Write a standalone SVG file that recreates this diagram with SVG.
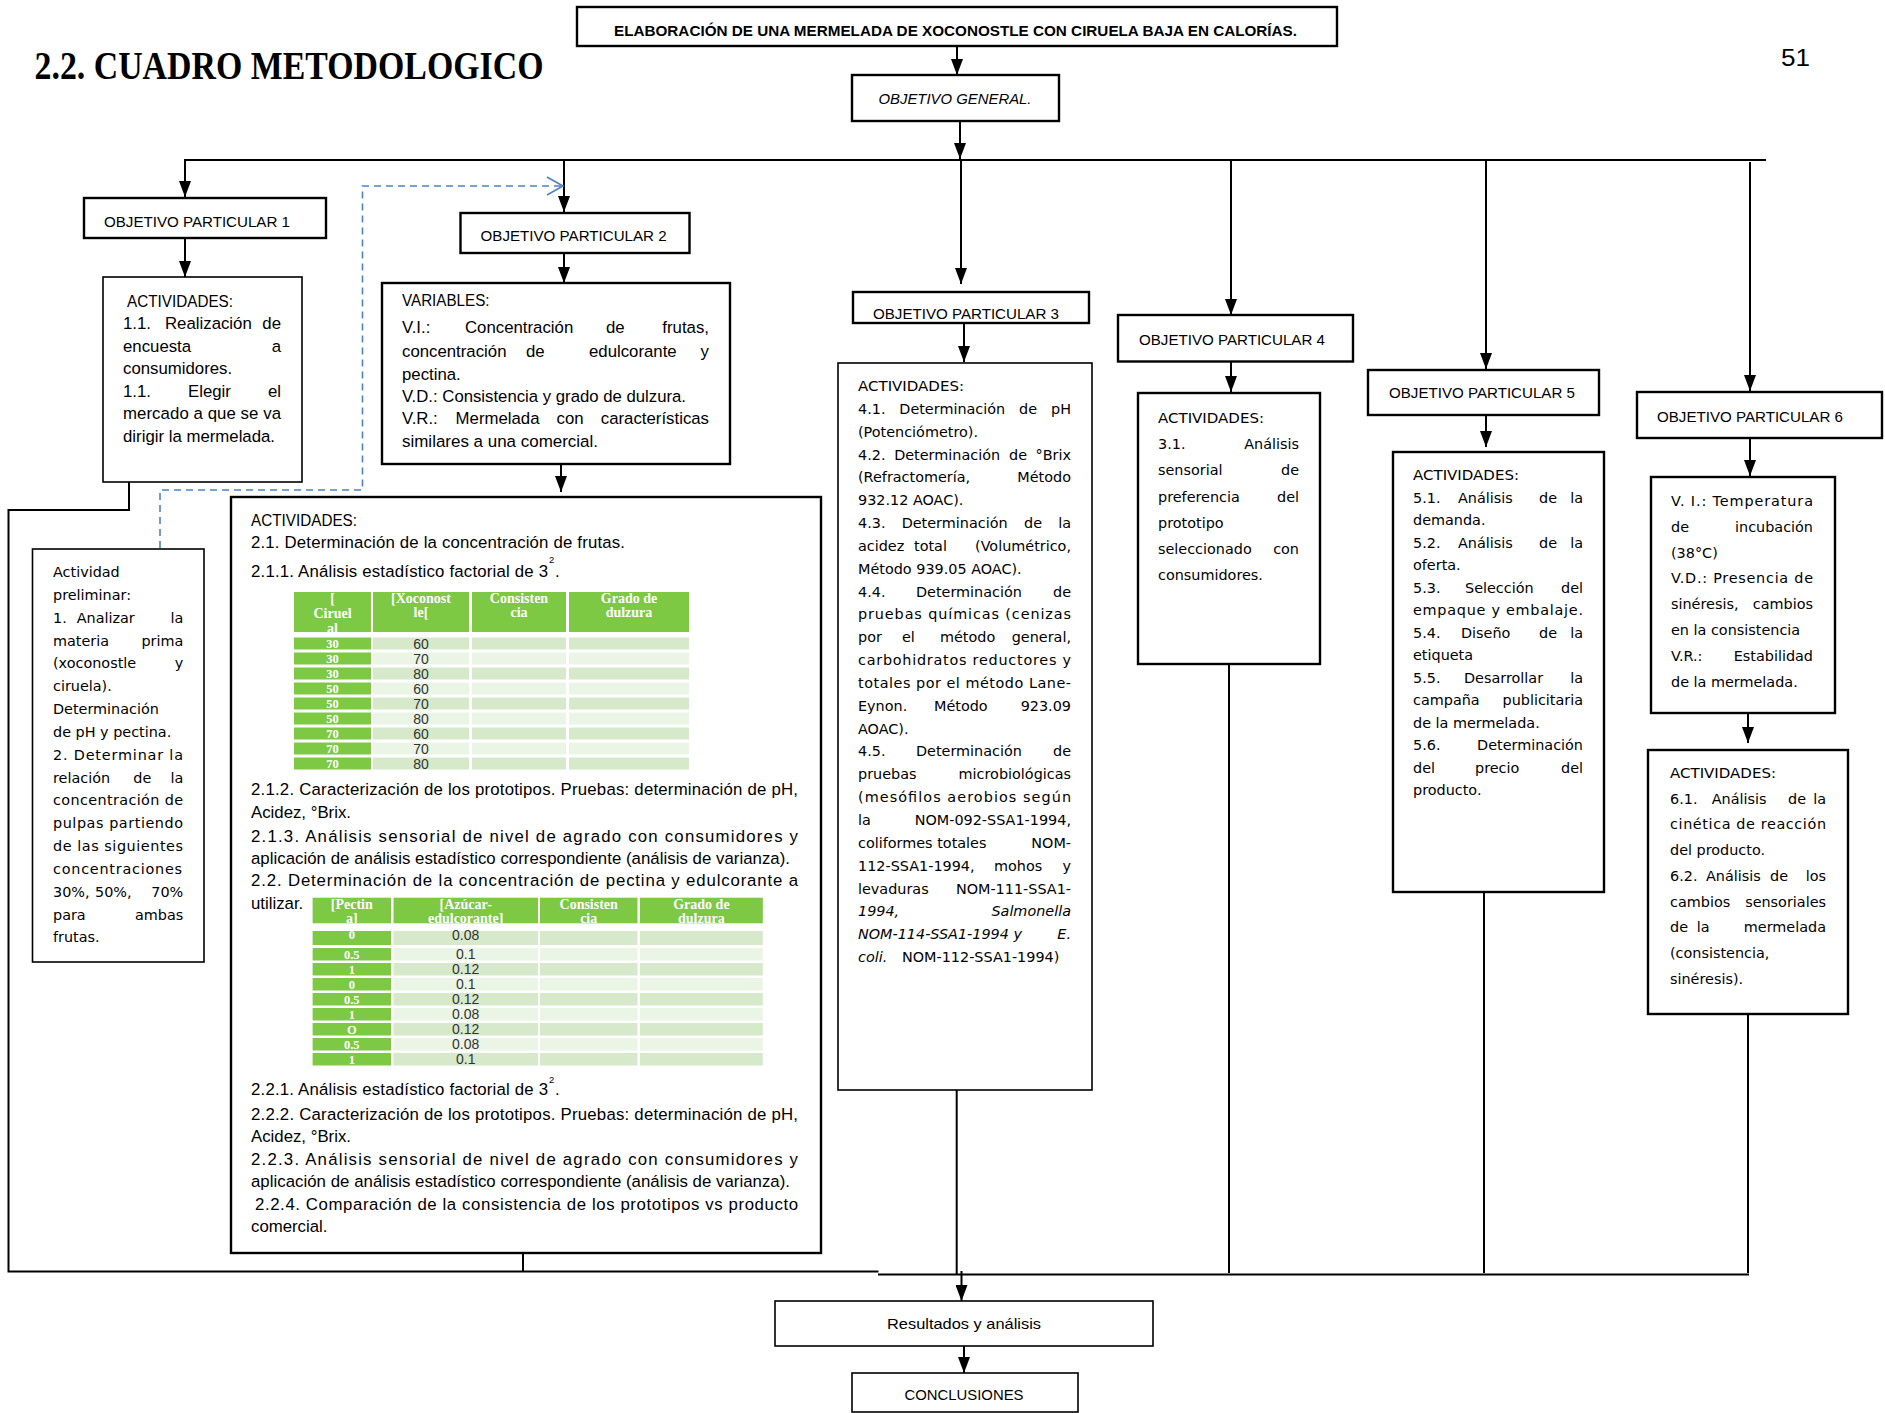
<svg xmlns="http://www.w3.org/2000/svg" width="1885" height="1413" viewBox="0 0 1885 1413">
<defs>
<style>
.bx{fill:#fff;stroke:#000;stroke-width:2.4}
.bt{fill:#fff;stroke:#000;stroke-width:1.6}
.ln{fill:none;stroke:#000;stroke-width:2}
.ar{fill:none;stroke:#000;stroke-width:2;marker-end:url(#ah)}
.c{font-family:"Liberation Sans",Arial,sans-serif;font-size:16.8px;fill:#000}
.sup{font-family:"Liberation Sans",Arial,sans-serif;font-size:9.5px;fill:#000}
.v{font-family:"DejaVu Sans",Verdana,sans-serif;font-size:14.4px;fill:#000}
.lab{font-family:"Liberation Sans",Arial,sans-serif;font-size:15px;fill:#000;text-anchor:middle}
.e{text-anchor:end}
.i{font-style:italic}
.hd{font-family:"Liberation Serif","Times New Roman",serif;font-weight:bold;font-size:14px;fill:#fff;text-anchor:middle}
.d1{font-family:"Liberation Serif","Times New Roman",serif;font-weight:bold;font-size:12.5px;fill:#fff;text-anchor:middle}
.d2{font-family:"Liberation Sans",Arial,sans-serif;font-size:14px;fill:#333;text-anchor:middle}
.g{fill:#7dc943}
.l1{fill:#d6eacb}
.l2{fill:#ebf5e5}
</style>
<marker id="ah" viewBox="0 0 16 12" refX="16" refY="6" markerWidth="16" markerHeight="12" markerUnits="userSpaceOnUse" orient="auto"><path d="M0,0 L16,6 L0,12 z" fill="#000"/></marker>
<clipPath id="h1"><rect x="294" y="592" width="395" height="40"/></clipPath>
<clipPath id="h2"><rect x="312.6" y="897.7" width="450.2" height="25.6"/></clipPath>
</defs>
<rect x="0" y="0" width="1885" height="1413" fill="#fff"/>

<g id="heading">
<text x="34.5" y="79" font-family="Liberation Serif,Times New Roman,serif" font-weight="bold" font-size="40" textLength="509" lengthAdjust="spacingAndGlyphs">2.2. CUADRO METODOLOGICO</text>
</g>
<g id="page-number">
<text x="1781" y="66" font-family="Liberation Sans,Arial,sans-serif" font-size="24" textLength="29" lengthAdjust="spacingAndGlyphs">51</text>
</g>

<g id="connectors">
<line class="ar" x1="957" y1="46" x2="957" y2="75"/>
<line class="ar" x1="960" y1="121" x2="960" y2="159"/>
<line class="ln" x1="184" y1="160" x2="1766" y2="160" stroke-width="3"/>
<line class="ar" x1="185" y1="160" x2="185" y2="197"/>
<line class="ar" x1="564" y1="160" x2="564" y2="212"/>
<line class="ar" x1="961" y1="160" x2="961" y2="284"/>
<line class="ar" x1="1231" y1="160" x2="1231" y2="315"/>
<line class="ar" x1="1486" y1="160" x2="1486" y2="369"/>
<line class="ar" x1="1750" y1="162" x2="1750" y2="391"/>
<line class="ar" x1="185" y1="238" x2="185" y2="277"/>
<line class="ar" x1="564" y1="253" x2="564" y2="283"/>
<line class="ar" x1="561" y1="464" x2="561" y2="492"/>
<line class="ar" x1="964" y1="323" x2="964" y2="362"/>
<line class="ar" x1="1231" y1="361" x2="1231" y2="392"/>
<line class="ar" x1="1486" y1="415" x2="1486" y2="447"/>
<line class="ar" x1="1750" y1="438" x2="1750" y2="476"/>
<line class="ar" x1="1748" y1="713" x2="1748" y2="743"/>
<polyline class="ln" points="129,482 129,510 8.5,510 8.5,1271.5 878.5,1271.5"/>
<line class="ln" x1="523" y1="1254" x2="523" y2="1271.5"/>
<line class="ln" x1="878" y1="1274.5" x2="1749" y2="1274.5" stroke-width="3"/>
<line class="ln" x1="956.7" y1="1090" x2="956.7" y2="1274"/>
<line class="ln" x1="1229" y1="664" x2="1229" y2="1273"/>
<line class="ln" x1="1484" y1="892" x2="1484" y2="1273"/>
<line class="ln" x1="1748" y1="1014" x2="1748" y2="1273"/>
<line class="ar" x1="961.5" y1="1271" x2="961.5" y2="1301"/>
<line class="ar" x1="964" y1="1346" x2="964" y2="1373"/>
<path d="M160,548 V490 H362.5 V186 H561" fill="none" stroke="#4f81bd" stroke-width="1.6" stroke-dasharray="7,5"/>
<path d="M547,177 L563,186 L547,195" fill="none" stroke="#4f81bd" stroke-width="1.6"/>
</g>

<g id="n-main">
<rect class="bx" x="577" y="7" width="760" height="39"/>
<text x="614" y="36" font-family="Liberation Sans,Arial,sans-serif" font-weight="bold" font-size="15.5" textLength="683" lengthAdjust="spacingAndGlyphs">ELABORACIÓN DE UNA MERMELADA DE XOCONOSTLE CON CIRUELA BAJA EN CALORÍAS.</text>
</g>

<g id="n-og">
<rect class="bx" x="852" y="75" width="207" height="46"/>
<text class="lab i" x="955" y="104" textLength="153" lengthAdjust="spacingAndGlyphs">OBJETIVO GENERAL.</text>
</g>

<g id="n-op1">
<rect class="bx" x="84" y="198" width="242" height="40"/>
<text class="lab" x="197" y="227" textLength="186" lengthAdjust="spacingAndGlyphs">OBJETIVO PARTICULAR 1</text>
</g>

<g id="n-op1-act">
<rect class="bt" x="103" y="277" width="199" height="205"/>
<text class="c" x="127" y="306.5" textLength="106" lengthAdjust="spacingAndGlyphs">ACTIVIDADES:</text>
<text class="c" x="123" y="329.3">1.1.</text><text class="c" x="165" y="329.3">Realización</text><text class="c e" x="281" y="329.3">de</text>
<text class="c" x="123" y="351.7">encuesta</text><text class="c e" x="281" y="351.7">a</text>
<text class="c" x="123" y="374.3">consumidores.</text>
<text class="c" x="123" y="396.7">1.1.</text><text class="c" x="188" y="396.7">Elegir</text><text class="c e" x="281" y="396.7">el</text>
<text class="c" x="123" y="419.3" textLength="158" lengthAdjust="spacing">mercado a que se va</text>
<text class="c" x="123" y="442.3">dirigir la mermelada.</text>
</g>

<g id="n-op2">
<rect class="bx" x="460.5" y="213" width="229" height="40"/>
<text class="lab" x="573.6" y="241" textLength="186" lengthAdjust="spacingAndGlyphs">OBJETIVO PARTICULAR 2</text>
</g>

<g id="n-op2-var">
<rect class="bx" x="382" y="283" width="348" height="181"/>
<text class="c" x="402" y="306" textLength="87.5" lengthAdjust="spacingAndGlyphs">VARIABLES:</text>
<text class="c" x="402" y="333">V.I.:</text><text class="c" x="465" y="333">Concentración</text><text class="c" x="606" y="333">de</text><text class="c e" x="709" y="333">frutas,</text>
<text class="c" x="402" y="357">concentración</text><text class="c" x="526" y="357">de</text><text class="c" x="589" y="357">edulcorante</text><text class="c e" x="709" y="357">y</text>
<text class="c" x="402" y="380">pectina.</text>
<text class="c" x="402" y="402" textLength="284" lengthAdjust="spacingAndGlyphs">V.D.: Consistencia y grado de dulzura.</text>
<text class="c" x="402" y="424">V.R.:</text><text class="c" x="455.6" y="424">Mermelada</text><text class="c" x="556.5" y="424">con</text><text class="c e" x="709" y="424">características</text>
<text class="c" x="402" y="447" textLength="196" lengthAdjust="spacingAndGlyphs">similares a una comercial.</text>
</g>

<g id="n-op2-act">
<rect class="bx" x="231" y="497" width="590" height="756"/>
<text class="c" x="251" y="526" textLength="106" lengthAdjust="spacingAndGlyphs">ACTIVIDADES:</text>
<text class="c" x="251" y="548" textLength="374" lengthAdjust="spacing">2.1. Determinación de la concentración de frutas.</text>
<text class="c" x="251" y="577" textLength="297" lengthAdjust="spacing">2.1.1. Análisis  estadístico factorial de 3</text>
<text class="sup" x="549" y="563">2</text><text class="c" x="555" y="577">.</text>
<g id="table-1">
<rect class="g" x="294" y="592" width="77" height="40"/><rect class="g" x="373" y="592" width="96" height="40"/><rect class="g" x="472" y="592" width="94" height="40"/><rect class="g" x="569" y="592" width="120" height="40"/>
<g clip-path="url(#h1)">
<text class="hd" x="332.5" y="603">[</text><text class="hd" x="332.5" y="618">Ciruel</text><text class="hd" x="332.5" y="633">al</text>
<text class="hd" x="421" y="603">[Xoconost</text><text class="hd" x="421" y="617">le[</text>
<text class="hd" x="519" y="603">Consisten</text><text class="hd" x="519" y="617">cia</text>
<text class="hd" x="629" y="603">Grado de</text><text class="hd" x="629" y="617">dulzura</text>
</g>
<rect class="g" x="294" y="637.5" width="77" height="12"/><rect class="l1" x="373" y="637.5" width="96" height="12"/><rect class="l1" x="472" y="637.5" width="94" height="12"/><rect class="l1" x="569" y="637.5" width="120" height="12"/>
<rect class="g" x="294" y="652.5" width="77" height="12"/><rect class="l2" x="373" y="652.5" width="96" height="12"/><rect class="l2" x="472" y="652.5" width="94" height="12"/><rect class="l2" x="569" y="652.5" width="120" height="12"/>
<rect class="g" x="294" y="667.5" width="77" height="12"/><rect class="l1" x="373" y="667.5" width="96" height="12"/><rect class="l1" x="472" y="667.5" width="94" height="12"/><rect class="l1" x="569" y="667.5" width="120" height="12"/>
<rect class="g" x="294" y="682.5" width="77" height="12"/><rect class="l2" x="373" y="682.5" width="96" height="12"/><rect class="l2" x="472" y="682.5" width="94" height="12"/><rect class="l2" x="569" y="682.5" width="120" height="12"/>
<rect class="g" x="294" y="697.5" width="77" height="12"/><rect class="l1" x="373" y="697.5" width="96" height="12"/><rect class="l1" x="472" y="697.5" width="94" height="12"/><rect class="l1" x="569" y="697.5" width="120" height="12"/>
<rect class="g" x="294" y="712.5" width="77" height="12"/><rect class="l2" x="373" y="712.5" width="96" height="12"/><rect class="l2" x="472" y="712.5" width="94" height="12"/><rect class="l2" x="569" y="712.5" width="120" height="12"/>
<rect class="g" x="294" y="727.5" width="77" height="12"/><rect class="l1" x="373" y="727.5" width="96" height="12"/><rect class="l1" x="472" y="727.5" width="94" height="12"/><rect class="l1" x="569" y="727.5" width="120" height="12"/>
<rect class="g" x="294" y="742.5" width="77" height="12"/><rect class="l2" x="373" y="742.5" width="96" height="12"/><rect class="l2" x="472" y="742.5" width="94" height="12"/><rect class="l2" x="569" y="742.5" width="120" height="12"/>
<rect class="g" x="294" y="757.5" width="77" height="12"/><rect class="l1" x="373" y="757.5" width="96" height="12"/><rect class="l1" x="472" y="757.5" width="94" height="12"/><rect class="l1" x="569" y="757.5" width="120" height="12"/>
<text class="d1" x="332.5" y="648">30</text><text class="d2" x="421" y="648.5">60</text>
<text class="d1" x="332.5" y="663">30</text><text class="d2" x="421" y="663.5">70</text>
<text class="d1" x="332.5" y="678">30</text><text class="d2" x="421" y="678.5">80</text>
<text class="d1" x="332.5" y="693">50</text><text class="d2" x="421" y="693.5">60</text>
<text class="d1" x="332.5" y="708">50</text><text class="d2" x="421" y="708.5">70</text>
<text class="d1" x="332.5" y="723">50</text><text class="d2" x="421" y="723.5">80</text>
<text class="d1" x="332.5" y="738">70</text><text class="d2" x="421" y="738.5">60</text>
<text class="d1" x="332.5" y="753">70</text><text class="d2" x="421" y="753.5">70</text>
<text class="d1" x="332.5" y="768">70</text><text class="d2" x="421" y="768.5">80</text>
</g>
<text class="c" x="251" y="795" textLength="547" lengthAdjust="spacing">2.1.2. Caracterización de los prototipos. Pruebas: determinación de pH,</text>
<text class="c" x="251" y="818">Acidez, °Brix.</text>
<text class="c" x="251" y="841.7" textLength="547" lengthAdjust="spacing">2.1.3. Análisis sensorial de nivel de agrado con consumidores y</text>
<text class="c" x="251" y="864" textLength="539" lengthAdjust="spacing">aplicación de análisis estadístico correspondiente (análisis de varianza).</text>
<text class="c" x="251" y="886" textLength="547" lengthAdjust="spacing">2.2. Determinación de la concentración de pectina y  edulcorante a</text>
<text class="c" x="251" y="909">utilizar.</text>
<g id="table-2">
<rect class="g" x="312.6" y="897.7" width="78.4" height="25.6"/><rect class="g" x="393.5" y="897.7" width="144.5" height="25.6"/><rect class="g" x="540" y="897.7" width="97.5" height="25.6"/><rect class="g" x="640" y="897.7" width="122.8" height="25.6"/>
<g clip-path="url(#h2)">
<text class="hd" x="351.8" y="909">[Pectin</text><text class="hd" x="351.8" y="923">a]</text>
<text class="hd" x="465.7" y="909">[Azúcar-</text><text class="hd" x="465.7" y="923">edulcorante]</text>
<text class="hd" x="588.7" y="909">Consisten</text><text class="hd" x="588.7" y="923">cia</text>
<text class="hd" x="701.4" y="909">Grado de</text><text class="hd" x="701.4" y="923">dulzura</text>
</g>
<rect class="g" x="312.6" y="931" width="78.4" height="14"/><rect class="l1" x="393.5" y="931" width="144.5" height="14"/><rect class="l1" x="540" y="931" width="97.5" height="14"/><rect class="l1" x="640" y="931" width="122.8" height="14"/>
<rect class="g" x="312.6" y="948" width="78.4" height="12.5"/><rect class="l2" x="393.5" y="948" width="144.5" height="12.5"/><rect class="l2" x="540" y="948" width="97.5" height="12.5"/><rect class="l2" x="640" y="948" width="122.8" height="12.5"/>
<rect class="g" x="312.6" y="963" width="78.4" height="12.5"/><rect class="l1" x="393.5" y="963" width="144.5" height="12.5"/><rect class="l1" x="540" y="963" width="97.5" height="12.5"/><rect class="l1" x="640" y="963" width="122.8" height="12.5"/>
<rect class="g" x="312.6" y="978" width="78.4" height="12.5"/><rect class="l2" x="393.5" y="978" width="144.5" height="12.5"/><rect class="l2" x="540" y="978" width="97.5" height="12.5"/><rect class="l2" x="640" y="978" width="122.8" height="12.5"/>
<rect class="g" x="312.6" y="993" width="78.4" height="12.5"/><rect class="l1" x="393.5" y="993" width="144.5" height="12.5"/><rect class="l1" x="540" y="993" width="97.5" height="12.5"/><rect class="l1" x="640" y="993" width="122.8" height="12.5"/>
<rect class="g" x="312.6" y="1008" width="78.4" height="12.5"/><rect class="l2" x="393.5" y="1008" width="144.5" height="12.5"/><rect class="l2" x="540" y="1008" width="97.5" height="12.5"/><rect class="l2" x="640" y="1008" width="122.8" height="12.5"/>
<rect class="g" x="312.6" y="1023" width="78.4" height="12.5"/><rect class="l1" x="393.5" y="1023" width="144.5" height="12.5"/><rect class="l1" x="540" y="1023" width="97.5" height="12.5"/><rect class="l1" x="640" y="1023" width="122.8" height="12.5"/>
<rect class="g" x="312.6" y="1038" width="78.4" height="12.5"/><rect class="l2" x="393.5" y="1038" width="144.5" height="12.5"/><rect class="l2" x="540" y="1038" width="97.5" height="12.5"/><rect class="l2" x="640" y="1038" width="122.8" height="12.5"/>
<rect class="g" x="312.6" y="1053" width="78.4" height="12.5"/><rect class="l1" x="393.5" y="1053" width="144.5" height="12.5"/><rect class="l1" x="540" y="1053" width="97.5" height="12.5"/><rect class="l1" x="640" y="1053" width="122.8" height="12.5"/>
<text class="d1" x="351.8" y="939">0</text><text class="d2" x="465.7" y="939.5">0.08</text>
<text class="d1" x="351.8" y="958.5">0.5</text><text class="d2" x="465.7" y="959">0.1</text>
<text class="d1" x="351.8" y="973.5">1</text><text class="d2" x="465.7" y="974">0.12</text>
<text class="d1" x="351.8" y="988.5">0</text><text class="d2" x="465.7" y="989">0.1</text>
<text class="d1" x="351.8" y="1003.5">0.5</text><text class="d2" x="465.7" y="1004">0.12</text>
<text class="d1" x="351.8" y="1018.5">1</text><text class="d2" x="465.7" y="1019">0.08</text>
<text class="d1" x="351.8" y="1033.5">O</text><text class="d2" x="465.7" y="1034">0.12</text>
<text class="d1" x="351.8" y="1048.5">0.5</text><text class="d2" x="465.7" y="1049">0.08</text>
<text class="d1" x="351.8" y="1063.5">1</text><text class="d2" x="465.7" y="1064">0.1</text>
</g>
<text class="c" x="251" y="1095" textLength="297" lengthAdjust="spacing">2.2.1. Análisis  estadístico factorial de 3</text>
<text class="sup" x="549" y="1083">2</text><text class="c" x="555" y="1095">.</text>
<text class="c" x="251" y="1120" textLength="547" lengthAdjust="spacing">2.2.2. Caracterización de los prototipos. Pruebas: determinación de pH,</text>
<text class="c" x="251" y="1142">Acidez, °Brix.</text>
<text class="c" x="251" y="1165" textLength="547" lengthAdjust="spacing">2.2.3. Análisis sensorial de nivel de agrado con consumidores y</text>
<text class="c" x="251" y="1187" textLength="539" lengthAdjust="spacing">aplicación de análisis estadístico correspondiente (análisis de varianza).</text>
<text class="c" x="255" y="1210" textLength="543" lengthAdjust="spacing">2.2.4. Comparación de la consistencia de los prototipos vs producto</text>
<text class="c" x="251" y="1232">comercial.</text>
</g>

<g id="n-prelim">
<rect class="bt" x="32.5" y="549" width="171.5" height="413"/>
<text class="v" x="53" y="577">Actividad</text>
<text class="v" x="53" y="599.8">preliminar:</text>
<text class="v" x="53" y="622.7">1.</text><text class="v" x="76.7" y="622.7">Analizar</text><text class="v e" x="183.3" y="622.7">la</text>
<text class="v" x="53" y="645.5">materia</text><text class="v e" x="183.3" y="645.5">prima</text>
<text class="v" x="53" y="668.4">(xoconostle</text><text class="v e" x="183.3" y="668.4">y</text>
<text class="v" x="53" y="691.2">ciruela).</text>
<text class="v" x="53" y="714">Determinación</text>
<text class="v" x="53" y="736.9">de pH y pectina.</text>
<text class="v" x="53" y="759.7" textLength="130" lengthAdjust="spacing">2. Determinar la</text>
<text class="v" x="53" y="782.6">relación</text><text class="v" x="133.3" y="782.6">de</text><text class="v e" x="183.3" y="782.6">la</text>
<text class="v" x="53" y="805.4" textLength="130" lengthAdjust="spacing">concentración de</text>
<text class="v" x="53" y="828.2" textLength="130" lengthAdjust="spacing">pulpas partiendo</text>
<text class="v" x="53" y="851.1" textLength="130" lengthAdjust="spacing">de  las siguientes</text>
<text class="v" x="53" y="873.9" textLength="129" lengthAdjust="spacing">concentraciones</text>
<text class="v" x="53" y="896.8">30%,</text><text class="v" x="95" y="896.8">50%,</text><text class="v e" x="183.3" y="896.8">70%</text>
<text class="v" x="53" y="919.6">para</text><text class="v e" x="183.3" y="919.6">ambas</text>
<text class="v" x="53" y="942.4">frutas.</text>
</g>

<g id="n-op3">
<rect class="bx" x="853" y="292" width="236" height="31"/>
<text class="lab" x="966" y="319" textLength="186" lengthAdjust="spacingAndGlyphs">OBJETIVO PARTICULAR 3</text>
</g>

<g id="n-op3-act">
<rect class="bt" x="838" y="363" width="254" height="727"/>
<text class="v" x="858" y="391" textLength="106" lengthAdjust="spacingAndGlyphs">ACTIVIDADES:</text>
<text class="v" x="858" y="413.8">4.1.</text><text class="v" x="899.3" y="413.8">Determinación</text><text class="v" x="1019" y="413.8">de</text><text class="v e" x="1071" y="413.8">pH</text>
<text class="v" x="858" y="436.7">(Potenciómetro).</text>
<text class="v" x="858" y="459.5">4.2.</text><text class="v" x="894.2" y="459.5">Determinación</text><text class="v" x="1009" y="459.5">de</text><text class="v e" x="1071" y="459.5">°Brix</text>
<text class="v" x="858" y="482.4">(Refractomería,</text><text class="v e" x="1071" y="482.4">Método</text>
<text class="v" x="858" y="505.2">932.12 AOAC).</text>
<text class="v" x="858" y="528">4.3.</text><text class="v" x="901.7" y="528">Determinación</text><text class="v" x="1024" y="528">de</text><text class="v e" x="1071" y="528">la</text>
<text class="v" x="858" y="550.9">acidez</text><text class="v" x="914" y="550.9">total</text><text class="v e" x="1071" y="550.9">(Volumétrico,</text>
<text class="v" x="858" y="573.7">Método 939.05 AOAC).</text>
<text class="v" x="858" y="596.6">4.4.</text><text class="v" x="916" y="596.6">Determinación</text><text class="v e" x="1071" y="596.6">de</text>
<text class="v" x="858" y="619.4" textLength="213" lengthAdjust="spacing">pruebas químicas (cenizas</text>
<text class="v" x="858" y="642.2">por</text><text class="v" x="902" y="642.2">el</text><text class="v" x="940" y="642.2">método</text><text class="v e" x="1071" y="642.2">general,</text>
<text class="v" x="858" y="665.1" textLength="213" lengthAdjust="spacing">carbohidratos reductores y</text>
<text class="v" x="858" y="687.9" textLength="213" lengthAdjust="spacing">totales por el método Lane-</text>
<text class="v" x="858" y="710.8">Eynon.</text><text class="v" x="934" y="710.8">Método</text><text class="v e" x="1071" y="710.8">923.09</text>
<text class="v" x="858" y="733.6">AOAC).</text>
<text class="v" x="858" y="756.4">4.5.</text><text class="v" x="916" y="756.4">Determinación</text><text class="v e" x="1071" y="756.4">de</text>
<text class="v" x="858" y="779.3">pruebas</text><text class="v e" x="1071" y="779.3">microbiológicas</text>
<text class="v" x="858" y="802.1" textLength="213" lengthAdjust="spacing">(mesófilos aerobios según</text>
<text class="v" x="858" y="825">la</text><text class="v e" x="1071" y="825">NOM-092-SSA1-1994,</text>
<text class="v" x="858" y="847.8">coliformes totales</text><text class="v e" x="1071" y="847.8">NOM-</text>
<text class="v" x="858" y="870.6">112-SSA1-1994,</text><text class="v" x="994" y="870.6">mohos</text><text class="v e" x="1071" y="870.6">y</text>
<text class="v" x="858" y="893.5">levaduras</text><text class="v e" x="1071" y="893.5">NOM-111-SSA1-</text>
<text class="v i" x="858" y="916.3">1994,</text><text class="v e i" x="1071" y="916.3">Salmonella</text>
<text class="v i" x="858" y="939.2">NOM-114-SSA1-1994 y</text><text class="v e i" x="1071" y="939.2">E.</text>
<text class="v i" x="858" y="962">coli.</text><text class="v" x="902" y="962">NOM-112-SSA1-1994)</text>
</g>

<g id="n-op4">
<rect class="bx" x="1118" y="315" width="235" height="46.5"/>
<text class="lab" x="1232" y="345" textLength="186" lengthAdjust="spacingAndGlyphs">OBJETIVO PARTICULAR 4</text>
</g>

<g id="n-op4-act">
<rect class="bx" x="1138" y="393" width="182" height="271"/>
<text class="v" x="1158" y="423" textLength="106" lengthAdjust="spacingAndGlyphs">ACTIVIDADES:</text>
<text class="v" x="1158" y="449.2">3.1.</text><text class="v e" x="1299" y="449.2">Análisis</text>
<text class="v" x="1158" y="475.4">sensorial</text><text class="v e" x="1299" y="475.4">de</text>
<text class="v" x="1158" y="501.6">preferencia</text><text class="v e" x="1299" y="501.6">del</text>
<text class="v" x="1158" y="527.8">prototipo</text>
<text class="v" x="1158" y="554">seleccionado</text><text class="v e" x="1299" y="554">con</text>
<text class="v" x="1158" y="580.2">consumidores.</text>
</g>

<g id="n-op5">
<rect class="bx" x="1368" y="370" width="231" height="45"/>
<text class="lab" x="1482" y="398" textLength="186" lengthAdjust="spacingAndGlyphs">OBJETIVO PARTICULAR 5</text>
</g>

<g id="n-op5-act">
<rect class="bx" x="1393" y="452" width="211" height="440"/>
<text class="v" x="1413" y="480" textLength="106" lengthAdjust="spacingAndGlyphs">ACTIVIDADES:</text>
<text class="v" x="1413" y="502.5">5.1.</text><text class="v" x="1458" y="502.5">Análisis</text><text class="v" x="1539" y="502.5">de</text><text class="v e" x="1583" y="502.5">la</text>
<text class="v" x="1413" y="525">demanda.</text>
<text class="v" x="1413" y="547.5">5.2.</text><text class="v" x="1458" y="547.5">Análisis</text><text class="v" x="1539" y="547.5">de</text><text class="v e" x="1583" y="547.5">la</text>
<text class="v" x="1413" y="570">oferta.</text>
<text class="v" x="1413" y="592.5">5.3.</text><text class="v" x="1465" y="592.5">Selección</text><text class="v e" x="1583" y="592.5">del</text>
<text class="v" x="1413" y="615" textLength="170" lengthAdjust="spacing">empaque  y embalaje.</text>
<text class="v" x="1413" y="637.5">5.4.</text><text class="v" x="1461" y="637.5">Diseño</text><text class="v" x="1539" y="637.5">de</text><text class="v e" x="1583" y="637.5">la</text>
<text class="v" x="1413" y="660">etiqueta</text>
<text class="v" x="1413" y="682.5">5.5.</text><text class="v" x="1464" y="682.5">Desarrollar</text><text class="v e" x="1583" y="682.5">la</text>
<text class="v" x="1413" y="705">campaña</text><text class="v e" x="1583" y="705">publicitaria</text>
<text class="v" x="1413" y="727.5">de la mermelada.</text>
<text class="v" x="1413" y="750">5.6.</text><text class="v e" x="1583" y="750">Determinación</text>
<text class="v" x="1413" y="772.5">del</text><text class="v" x="1475" y="772.5">precio</text><text class="v e" x="1583" y="772.5">del</text>
<text class="v" x="1413" y="795">producto.</text>
</g>

<g id="n-op6">
<rect class="bx" x="1637" y="392" width="245" height="46"/>
<text class="lab" x="1750" y="422" textLength="186" lengthAdjust="spacingAndGlyphs">OBJETIVO PARTICULAR 6</text>
</g>

<g id="n-op6-var">
<rect class="bx" x="1651" y="477" width="184" height="236"/>
<text class="v" x="1671" y="506" textLength="142" lengthAdjust="spacing">V. I.: Temperatura</text>
<text class="v" x="1671" y="531.8">de</text><text class="v e" x="1813" y="531.8">incubación</text>
<text class="v" x="1671" y="557.6">(38°C)</text>
<text class="v" x="1671" y="583.4" textLength="142" lengthAdjust="spacing">V.D.: Presencia de</text>
<text class="v" x="1671" y="609.2">sinéresis,</text><text class="v e" x="1813" y="609.2">cambios</text>
<text class="v" x="1671" y="635">en la consistencia</text>
<text class="v" x="1671" y="660.8">V.R.:</text><text class="v e" x="1813" y="660.8">Estabilidad</text>
<text class="v" x="1671" y="686.6">de la mermelada.</text>
</g>

<g id="n-op6-act">
<rect class="bx" x="1648" y="750" width="200" height="264"/>
<text class="v" x="1670" y="778" textLength="106" lengthAdjust="spacingAndGlyphs">ACTIVIDADES:</text>
<text class="v" x="1670" y="803.7">6.1.</text><text class="v" x="1711.7" y="803.7">Análisis</text><text class="v" x="1788" y="803.7">de</text><text class="v e" x="1826" y="803.7">la</text>
<text class="v" x="1670" y="829.4" textLength="156" lengthAdjust="spacing">cinética de reacción</text>
<text class="v" x="1670" y="855.1">del producto.</text>
<text class="v" x="1670" y="880.8">6.2.</text><text class="v" x="1706" y="880.8">Análisis</text><text class="v" x="1770" y="880.8">de</text><text class="v e" x="1826" y="880.8">los</text>
<text class="v" x="1670" y="906.5">cambios</text><text class="v e" x="1826" y="906.5">sensoriales</text>
<text class="v" x="1670" y="932.2">de</text><text class="v" x="1696.7" y="932.2">la</text><text class="v e" x="1826" y="932.2">mermelada</text>
<text class="v" x="1670" y="957.9">(consistencia,</text>
<text class="v" x="1670" y="983.6">sinéresis).</text>
</g>

<g id="n-results">
<rect class="bt" x="775" y="1301" width="378" height="45"/>
<text class="lab" x="964" y="1329" textLength="154" lengthAdjust="spacingAndGlyphs">Resultados y análisis</text>
</g>

<g id="n-conclusions">
<rect class="bt" x="852" y="1373" width="226" height="39"/>
<text class="lab" x="964" y="1400" textLength="119" lengthAdjust="spacingAndGlyphs">CONCLUSIONES</text>
</g>
</svg>
